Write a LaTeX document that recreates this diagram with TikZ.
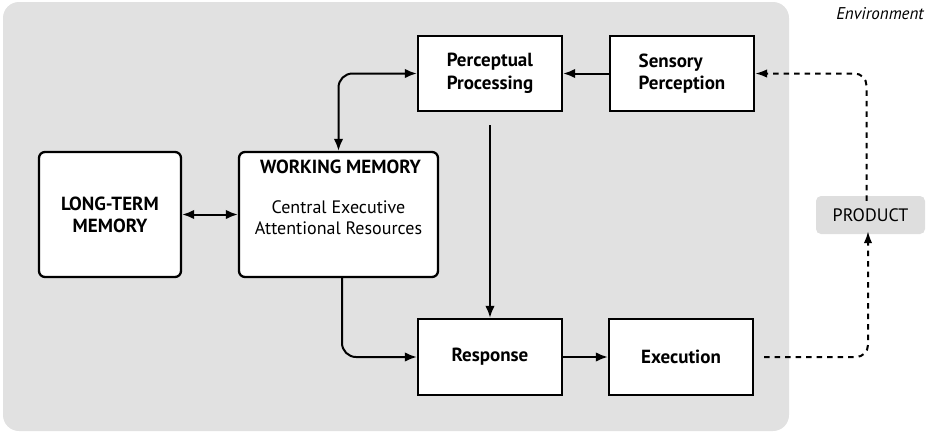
\documentclass[tikz,border=0pt]{standalone}
\usepackage{fontspec}
\setmainfont{PT Sans}
\usetikzlibrary{arrows.meta}
\definecolor{envgray}{HTML}{E1E1E1}
\definecolor{prodgray}{HTML}{DEDEDE}
\tikzset{
  box/.style={draw=black, line width=2.3pt, fill=white, minimum width=144pt, minimum height=75pt, inner sep=0pt, font=\fontsize{19}{22.5}\selectfont\bfseries, align=left},
  membox/.style={draw=black, line width=2.3pt, fill=white, rounded corners=6pt, minimum height=125pt, inner sep=0pt},
  conn/.style={line width=2pt, -{Latex[length=12pt,width=9.5pt]}},
  biconn/.style={line width=2pt, {Latex[length=12pt,width=9.5pt]}-{Latex[length=12pt,width=9.5pt]}},
  dconn/.style={line width=2pt, dash pattern=on 5.5pt off 5pt, -{Latex[length=12pt,width=8.5pt]}},
  lbl/.style={font=\fontsize{18}{21}\selectfont, inner sep=0pt}
}
\begin{document}
\begin{tikzpicture}[x=1pt,y=-1pt]
\useasboundingbox (0,0) rectangle (932,432);
\fill[envgray, rounded corners=16pt] (3,2) rectangle (789,431);
\node[lbl, font=\fontsize{17}{19}\selectfont\itshape, anchor=east] (env) at (924,14) {Environment};

\node[box] (pp) at (490,73.5) {Perceptual\\Processing};
\node[box] (sp) at (682,73.5) {Sensory\\Perception};
\node[box, minimum height=76pt] (resp) at (490,357) {Response};
\node[box, minimum height=76pt] (exec) at (681,357) {Execution};

\node[membox, minimum width=142pt, align=center, font=\fontsize{19}{22}\selectfont\bfseries] (ltm) at (110,214.5) {LONG-TERM\\MEMORY};
\node[membox, minimum width=199pt] (wm) at (338.5,214.5) {};
\node[lbl, font=\fontsize{19}{22}\selectfont\bfseries] (wmt) at (340.5,167) {WORKING MEMORY};
\node[lbl] (wm1) at (338.5,207) {Central Executive};
\node[lbl] (wm2) at (338.5,228.5) {Attentional Resources};

\node[fill=prodgray, rounded corners=5pt, minimum width=109pt, minimum height=38pt, inner sep=0pt, font=\fontsize{18}{21}\selectfont] (prod) at (870.5,215) {PRODUCT};

\draw[biconn, rounded corners=14pt] (wm.north) |- (pp.west);
\draw[biconn] (ltm.east) -- (wm.west);
\draw[conn] (sp.west) -- (pp.east);
\draw[conn, shorten <=13pt] (pp.south) -- (resp.north);
\draw[conn, rounded corners=14pt] ([xshift=3.5pt]wm.south) |- (resp.west);
\draw[conn] (resp.east) -- (exec.east -| exec.west);
\draw[dconn, rounded corners=12pt] ([xshift=10pt]exec.east) -| ([xshift=-2.5pt,yshift=3pt]prod.south);
\draw[dconn, rounded corners=12pt] ([xshift=-4pt,yshift=-5pt]prod.north) |- (sp.east);
\end{tikzpicture}
\end{document}
